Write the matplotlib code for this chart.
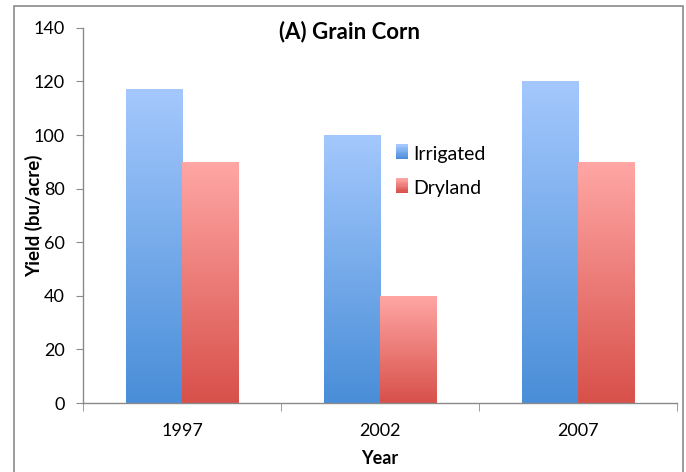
import numpy as np
import matplotlib
matplotlib.use("Agg")
import matplotlib.pyplot as plt
from matplotlib.colors import LinearSegmentedColormap
from matplotlib.patches import Rectangle, Patch
from matplotlib.legend_handler import HandlerBase

plt.rcParams['font.family'] = ['Lato', 'DejaVu Sans']

# data
tahun = ["1997", "2002", "2007"]
irrigated = [117, 100, 120]
dryland = [90, 40, 90]

# warna gradien (atas -> bawah)
biru = ("#a4c8fd", "#498ed8")
merah = ("#ffa7a5", "#d8504a")

fig = plt.figure(figsize=(6.86, 4.72), dpi=100)
ax = fig.add_axes([0.121, 0.146, 0.866, 0.795])

# bingkai luar
fig.patches.append(Rectangle((14 / 686, -0.01), (683 - 14) / 686, 1 - 6 / 472 + 0.01,
                             transform=fig.transFigure, fill=False,
                             edgecolor="#8a8a8a", linewidth=1.2))


def bar_gradien(ax, x, h, w, warna):
    cmap = LinearSegmentedColormap.from_list("g", [warna[1], warna[0]])
    grad = np.linspace(0, 1, 256).reshape(-1, 1)
    im = ax.imshow(grad, cmap=cmap, origin="lower", aspect="auto",
                   extent=[x - w / 2, x + w / 2, 0, h], zorder=2)
    rect = Rectangle((x - w / 2, 0), w, h, transform=ax.transData,
                     facecolor="none", edgecolor="none")
    ax.add_patch(rect)
    im.set_clip_path(rect)


class HandlerGradien(HandlerBase):
    def __init__(self, warna):
        super().__init__()
        self.warna = warna

    def create_artists(self, legend, orig_handle, xdescent, ydescent, width, height, fontsize, trans):
        artists = []
        n = 12
        c0 = np.array(matplotlib.colors.to_rgb(self.warna[1]))
        c1 = np.array(matplotlib.colors.to_rgb(self.warna[0]))
        for i in range(n):
            t = i / (n - 1)
            c = c0 + (c1 - c0) * t
            r = Rectangle((xdescent, ydescent + height * i / n), width, height / n + 0.3,
                          facecolor=c, edgecolor="none", transform=trans)
            artists.append(r)
        return artists


x = np.arange(len(tahun))
w = 0.285
for i in range(len(tahun)):
    bar_gradien(ax, x[i] - w / 2, irrigated[i], w, biru)
    bar_gradien(ax, x[i] + w / 2, dryland[i], w, merah)

ax.set_xlim(-0.5, len(tahun) - 0.5)
ax.set_ylim(0, 140)
ax.set_yticks(range(0, 141, 20))
ax.set_xticks(x)
ax.set_xticklabels(tahun)
ax.set_xticks(np.arange(-0.5, len(tahun), 1), minor=True)
ax.tick_params(axis="x", which="major", length=0, pad=14, labelsize=13)
ax.tick_params(axis="x", which="minor", length=6, color="#8a8a8a", direction="out")
ax.tick_params(axis="y", length=5, color="#8a8a8a", labelsize=13, pad=8)

for s in ["top", "right"]:
    ax.spines[s].set_visible(False)
for s in ["left", "bottom"]:
    ax.spines[s].set_color("#8a8a8a")
    ax.spines[s].set_linewidth(1.0)

ax.set_xlabel("Year", fontsize=13, fontweight="bold", labelpad=8)
ax.set_ylabel("Yield (bu/acre)", fontsize=13.5, fontweight="bold")
ax.yaxis.set_label_coords(-0.067, 0.5)
ax.text(0.448, 0.989, "(A) Grain Corn", transform=ax.transAxes, ha="center", va="center",
        fontsize=16, fontweight="bold")

h1 = Patch(label="Irrigated")
h2 = Patch(label="Dryland")
ax.legend([h1, h2], ["Irrigated", "Dryland"],
          handler_map={h1: HandlerGradien(biru), h2: HandlerGradien(merah)},
          loc="center left", bbox_to_anchor=(0.527, 0.618), frameon=False,
          fontsize=14, handlelength=0.6, handleheight=0.8, handletextpad=0.3,
          labelspacing=0.85, borderpad=0, borderaxespad=0)

fig.savefig("out.png", dpi=100)
